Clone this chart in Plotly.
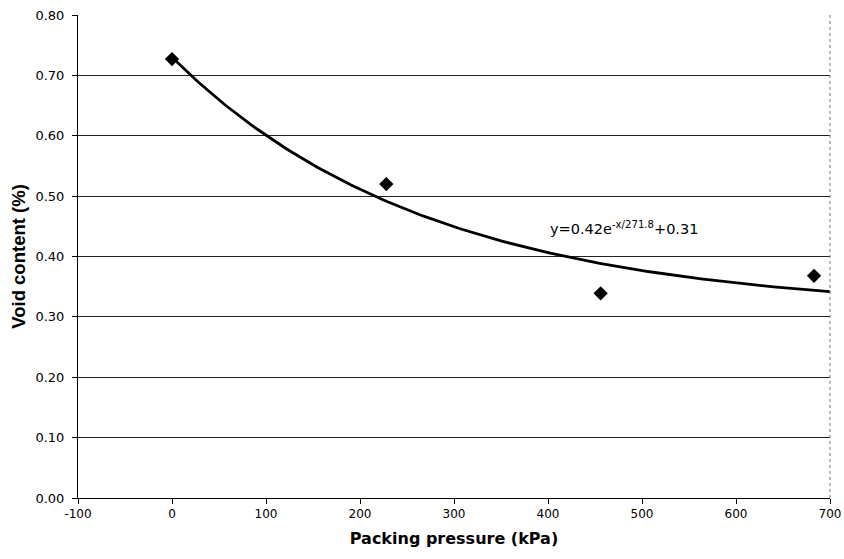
import numpy as np
import plotly.graph_objects as go

# Measured void content vs packing pressure
pressure_kpa = [0, 228, 456, 683]
void_content = [0.727, 0.52, 0.339, 0.368]

# Exponential fit y = A*exp(-x/tau) + c
fit_A = 0.42
fit_tau = 271.8
fit_c = 0.31
fit_x = np.linspace(0, 700, 141)
fit_y = fit_A * np.exp(-fit_x / fit_tau) + fit_c

x_ticks = [-100, 0, 100, 200, 300, 400, 500, 600, 700]
y_ticks = [0.0, 0.1, 0.2, 0.3, 0.4, 0.5, 0.6, 0.7, 0.8]

wide_font = "DejaVu Sans, Verdana, sans-serif"
narrow_font = "Liberation Sans, Arial, sans-serif"

fig = go.Figure()
fig.add_trace(go.Scatter(
    x=fit_x, y=fit_y, mode="lines",
    line=dict(color="black", width=2.8),
    hoverinfo="skip", showlegend=False,
))
fig.add_trace(go.Scatter(
    x=pressure_kpa, y=void_content, mode="markers",
    marker=dict(symbol="diamond", size=11, color="black"),
    showlegend=False,
))

fig.add_annotation(
    x=400, y=0.447, xref="x", yref="y", xanchor="left", yanchor="middle",
    text=f"y={fit_A}e<sup>-x/{fit_tau}</sup>+{fit_c}",
    showarrow=False, font=dict(family=wide_font, size=14.5, color="black"),
)

# dotted frame on the right side of the plot area
fig.add_shape(type="line", xref="paper", yref="paper", x0=1, x1=1, y0=0, y1=1,
              line=dict(color="#777777", width=1, dash="dot"))

fig.update_layout(
    width=844, height=559,
    margin=dict(l=78, r=14, t=15, b=61, autoexpand=False),
    paper_bgcolor="white", plot_bgcolor="white",
    font=dict(family=wide_font, size=12, color="black"),
    xaxis=dict(
        range=[-100, 700], tickvals=x_ticks,
        ticktext=[str(v) for v in x_ticks],
        tickfont=dict(family=wide_font, size=12),
        showgrid=False, zeroline=False, automargin=False,
        showline=True, linecolor="black", linewidth=1,
        ticks="outside", ticklen=5, tickcolor="black",
        title=dict(text="<b>Packing pressure (kPa)</b>",
                   font=dict(family=wide_font, size=16), standoff=12),
    ),
    yaxis=dict(
        range=[0, 0.8], tickvals=y_ticks,
        ticktext=[f"{v:.2f}" for v in y_ticks],
        tickfont=dict(family=wide_font, size=13),
        ticklabelstandoff=5,
        showgrid=True, gridcolor="#222222", gridwidth=1,
        zeroline=False, automargin=False,
        showline=True, linecolor="black", linewidth=1,
        ticks="outside", ticklen=5, tickcolor="black",
        title=dict(text="<b>Void content (%)</b>",
                   font=dict(family=narrow_font, size=18.5), standoff=4),
    ),
)

fig.write_html("out.html")
